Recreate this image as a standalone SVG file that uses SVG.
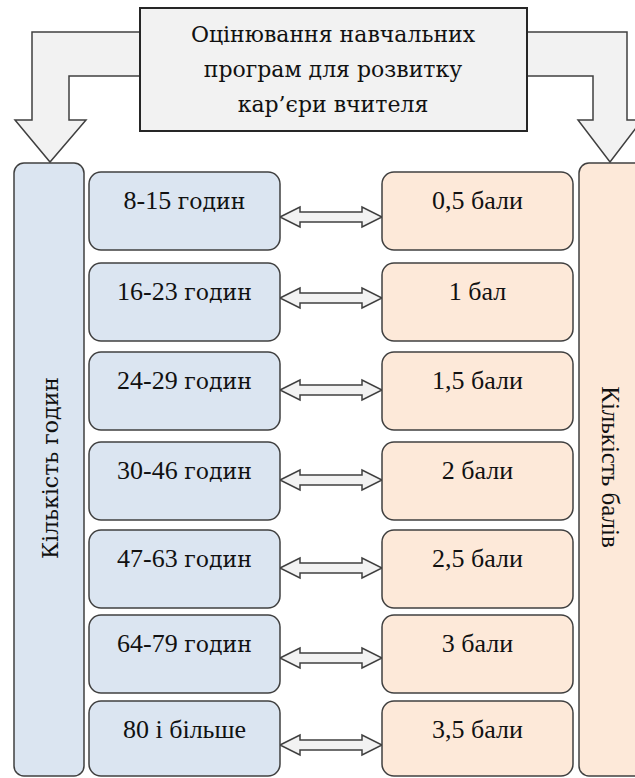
<svg xmlns="http://www.w3.org/2000/svg" width="635" height="778" viewBox="0 0 635 778">
<style>
.t{fill:#111;text-anchor:middle}
.bl{fill:#dbe5f1;stroke:#404040;stroke-width:1.5}
.pe{fill:#fde9d9;stroke:#404040;stroke-width:1.5}
.ar{fill:#f2f2f2;stroke:#404040;stroke-width:1.5;stroke-linejoin:miter}
</style>
<rect width="635" height="778" fill="#fff"/>
<g id="connectors">
<path class="ar" d="M140,32 H32 V120 H15 L50,162 L86,120 H69 V76 H140 Z"/>
<path class="ar" d="M527,32 H627 V120 H642 L610,162 L578,120 H593 V76 H527 Z"/>
<path class="ar" d="M280,217 L300,207 V212 H362 V207 L382,217 L362,227 V222 H300 V227 Z"/>
<path class="ar" d="M280,298 L300,288 V293 H362 V288 L382,298 L362,308 V303 H300 V308 Z"/>
<path class="ar" d="M280,390 L300,380 V385 H362 V380 L382,390 L362,400 V395 H300 V400 Z"/>
<path class="ar" d="M280,480 L300,470 V475 H362 V470 L382,480 L362,490 V485 H300 V490 Z"/>
<path class="ar" d="M280,568 L300,558 V563 H362 V558 L382,568 L362,578 V573 H300 V578 Z"/>
<path class="ar" d="M280,658 L300,648 V653 H362 V648 L382,658 L362,668 V663 H300 V668 Z"/>
<path class="ar" d="M280,745 L300,735 V740 H362 V735 L382,745 L362,755 V750 H300 V755 Z"/>
</g>
<g font-family="'DejaVu Serif', serif" font-size="22">
<g id="title">
<rect x="140" y="8" width="387" height="123" fill="#f2f2f2" stroke="#262626" stroke-width="2"/>
<text class="t" x="333" y="42">Оцінювання навчальних</text>
<text class="t" x="333" y="77">програм для розвитку</text>
<text class="t" x="333" y="112">кар’єри вчителя</text>
</g>
<g id="hours">
<rect class="bl" x="14" y="163" width="70" height="613" rx="10"/>
<text class="t" transform="translate(58,468) rotate(-90)">Кількість годин</text>
</g>
<g id="points">
<rect class="pe" x="579" y="163" width="70" height="613" rx="10"/>
<text class="t" transform="translate(602,467) rotate(90)" font-family="'Liberation Serif', serif" font-size="25">Кількість балів</text>
</g>
<g id="h1"><rect class="bl" x="89" y="172" width="191" height="78" rx="12"/><text class="t" x="184.5" y="209"><tspan font-family="'Liberation Serif', serif" font-size="26">8-15 </tspan>годин</text></g>
<g id="h2"><rect class="bl" x="89" y="263" width="191" height="78" rx="12"/><text class="t" x="184.5" y="300"><tspan font-family="'Liberation Serif', serif" font-size="26">16-23 </tspan>годин</text></g>
<g id="h3"><rect class="bl" x="89" y="352" width="191" height="78" rx="12"/><text class="t" x="184.5" y="389"><tspan font-family="'Liberation Serif', serif" font-size="26">24-29 </tspan>годин</text></g>
<g id="h4"><rect class="bl" x="89" y="442" width="191" height="78" rx="12"/><text class="t" x="184.5" y="479"><tspan font-family="'Liberation Serif', serif" font-size="26">30-46 </tspan>годин</text></g>
<g id="h5"><rect class="bl" x="89" y="530" width="191" height="78" rx="12"/><text class="t" x="184.5" y="567"><tspan font-family="'Liberation Serif', serif" font-size="26">47-63 </tspan>годин</text></g>
<g id="h6"><rect class="bl" x="89" y="615" width="191" height="78" rx="12"/><text class="t" x="184.5" y="652"><tspan font-family="'Liberation Serif', serif" font-size="26">64-79 </tspan>годин</text></g>
<g id="h7"><rect class="bl" x="89" y="701" width="191" height="75" rx="12"/><text class="t" x="184.5" y="738" font-family="'Liberation Serif', serif" font-size="26">80 і більше</text></g>
<g id="p1"><rect class="pe" x="382" y="172" width="191" height="78" rx="12"/><text class="t" x="477.5" y="209" font-family="'Liberation Serif', serif" font-size="26">0,5 бали</text></g>
<g id="p2"><rect class="pe" x="382" y="263" width="191" height="78" rx="12"/><text class="t" x="477.5" y="300" font-family="'Liberation Serif', serif" font-size="26">1 бал</text></g>
<g id="p3"><rect class="pe" x="382" y="352" width="191" height="78" rx="12"/><text class="t" x="477.5" y="389" font-family="'Liberation Serif', serif" font-size="26">1,5 бали</text></g>
<g id="p4"><rect class="pe" x="382" y="442" width="191" height="78" rx="12"/><text class="t" x="477.5" y="479" font-family="'Liberation Serif', serif" font-size="26">2 бали</text></g>
<g id="p5"><rect class="pe" x="382" y="530" width="191" height="78" rx="12"/><text class="t" x="477.5" y="567" font-family="'Liberation Serif', serif" font-size="26">2,5 бали</text></g>
<g id="p6"><rect class="pe" x="382" y="615" width="191" height="78" rx="12"/><text class="t" x="477.5" y="652" font-family="'Liberation Serif', serif" font-size="26">3 бали</text></g>
<g id="p7"><rect class="pe" x="382" y="701" width="191" height="75" rx="12"/><text class="t" x="477.5" y="738" font-family="'Liberation Serif', serif" font-size="26">3,5 бали</text></g>
</g>
</svg>
